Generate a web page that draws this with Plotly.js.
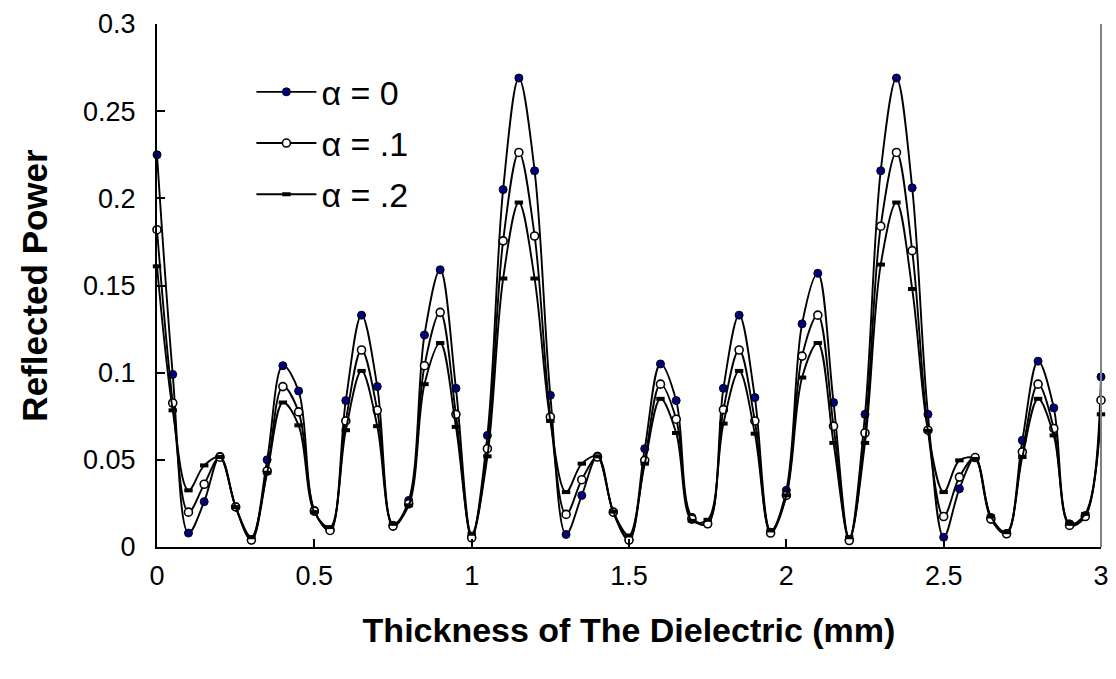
<!DOCTYPE html>
<html>
<head>
<meta charset="utf-8">
<script src="https://cdn.plot.ly/plotly-3.0.1.min.js"></script>
<style>html,body{margin:0;padding:0;background:#fff;}#chart{width:1116px;height:679px;}</style>
</head>
<body>
<div id="chart"></div>
<script>
var thickness = [0,0.05,0.1,0.15,0.2,0.25,0.3,0.35,0.4,0.45,0.5,0.55,0.6,0.65,0.7,0.75,0.8,0.85,0.9,0.95,
  1.0,1.05,1.1,1.15,1.2,1.25,1.3,1.35,1.4,1.45,1.5,1.55,1.6,1.65,1.7,1.75,1.8,1.85,1.9,1.95,
  2.0,2.05,2.1,2.15,2.2,2.25,2.3,2.35,2.4,2.45,2.5,2.55,2.6,2.65,2.7,2.75,2.8,2.85,2.9,2.95,3.0];

var alpha0 = [0.225,0.099,0.008,0.026,0.052,0.023,0.004,0.050,0.104,0.0895,0.021,0.0095,0.084,0.133,0.092,0.0124,0.0267,0.1216,0.159,0.091,
  0.0056,0.064,0.205,0.269,0.2158,0.087,0.0072,0.0296,0.0522,0.020,0.004,0.0564,0.105,0.084,0.017,0.0133,0.091,0.133,0.0857,0.0085,
  0.0325,0.128,0.157,0.0829,0.0043,0.0761,0.2158,0.269,0.206,0.0761,0.0056,0.0334,0.0513,0.017,0.0076,0.0612,0.1066,0.0798,0.0133,0.018,0.0976];

var alpha01 = [0.182,0.0826,0.020,0.036,0.0515,0.023,0.004,0.0436,0.092,0.0775,0.0206,0.0095,0.0723,0.113,0.0784,0.012,0.0248,0.104,0.1346,0.0761,
  0.0053,0.0564,0.1756,0.2263,0.1784,0.0746,0.0187,0.0386,0.0516,0.020,0.004,0.0497,0.0934,0.0733,0.016,0.0133,0.0788,0.113,0.0723,0.008,
  0.0296,0.1095,0.133,0.0693,0.0037,0.0654,0.184,0.2263,0.170,0.067,0.0175,0.0401,0.0513,0.016,0.0076,0.0545,0.0934,0.068,0.0124,0.0175,0.0842];

var alpha02 = [0.161,0.0784,0.0325,0.0468,0.0516,0.0229,0.0056,0.0426,0.0829,0.0698,0.020,0.0114,0.067,0.101,0.0693,0.0133,0.0239,0.0934,0.117,0.0689,
  0.0076,0.052,0.154,0.1976,0.154,0.0723,0.0315,0.0478,0.052,0.0203,0.0066,0.0478,0.085,0.0654,0.015,0.0156,0.0708,0.101,0.065,0.0095,
  0.0296,0.0972,0.117,0.0597,0.0056,0.0597,0.162,0.1976,0.148,0.0666,0.0315,0.0497,0.0505,0.0175,0.0085,0.0516,0.085,0.064,0.0133,0.019,0.0761];

var seriesNames = ["\u03b1 = 0", "\u03b1 = .1", "\u03b1 = .2"];
var xTitle = "Thickness of The Dielectric (mm)";
var yTitle = "Reflected Power";

var lineStyle = {color: "#000000", width: 1.9, shape: "spline", smoothing: 1};

var traces = [
  {x: thickness, y: alpha0, name: seriesNames[0], type: "scatter", mode: "lines+markers", legendgroup: "a",
   line: lineStyle, cliponaxis: false,
   marker: {symbol: "circle", size: 8, color: "#000080", line: {color: "#000000", width: 1}}},
  {x: thickness, y: alpha01, name: seriesNames[1], type: "scatter", mode: "lines+markers", legendgroup: "b",
   line: lineStyle, cliponaxis: false,
   marker: {symbol: "circle", size: 8, color: "#ffffff", line: {color: "#000000", width: 1.6}}},
  {x: thickness, y: alpha02, name: seriesNames[2], type: "scatter", mode: "lines+markers", legendgroup: "c",
   line: lineStyle, cliponaxis: false,
   marker: {symbol: "line-ew", size: 6, color: "#000000", line: {color: "#000000", width: 4}}}
];

var layout = {
  width: 1116, height: 679,
  margin: {l: 157, r: 15, t: 24, b: 132},
  paper_bgcolor: "#ffffff", plot_bgcolor: "#ffffff",
  font: {family: "Liberation Sans, Arial, sans-serif", color: "#000000", size: 27},
  showlegend: true,
  legend: {x: 0.1, y: 0.925, xanchor: "left", yanchor: "top", bgcolor: "rgba(0,0,0,0)",
           font: {size: 34}, traceorder: "grouped", tracegroupgap: 4, itemwidth: 60},
  xaxis: {range: [0, 3], dtick: 0.5, tick0: 0, showgrid: false, zeroline: false,
          showline: true, linecolor: "#000000", linewidth: 2,
          ticks: "inside", ticklen: 8, tickwidth: 2, tickcolor: "#000000",
          ticklabelstandoff: 4, tickfont: {size: 27},
          title: {text: xTitle, font: {size: 34, family: "Liberation Sans, Arial, sans-serif"}, standoff: 28}},
  yaxis: {range: [0, 0.3], dtick: 0.05, tick0: 0, showgrid: false, zeroline: false,
          showline: true, linecolor: "#000000", linewidth: 2,
          ticks: "inside", ticklen: 8, tickwidth: 2, tickcolor: "#000000",
          ticklabelstandoff: 14, tickfont: {size: 27},
          title: {text: yTitle, font: {size: 35, family: "Liberation Sans, Arial, sans-serif"}, standoff: 25}},
  shapes: [{type: "line", xref: "paper", yref: "paper", x0: 1, x1: 1, y0: 0, y1: 1,
            line: {color: "#808080", width: 2}}]
};

Plotly.newPlot("chart", traces, layout, {displayModeBar: false, staticPlot: true}).then(function(){
  var ts = document.querySelectorAll(".xtitle, .ytitle");
  ts.forEach(function(t){ t.style.fontWeight = "bold"; });
});
</script>
</body>
</html>
